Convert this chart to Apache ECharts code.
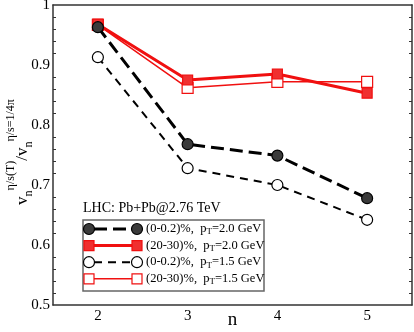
<!DOCTYPE html>
<html>
<head>
<meta charset="utf-8">
<script src="https://cdn.jsdelivr.net/npm/echarts@6/dist/echarts.min.js"></script>
<style>
    html, body { margin: 0; padding: 0; background: #fff; }
    #chart { width: 414px; height: 332px; }
</style>
</head>
<body>
<div id="chart"></div>
<script>
// n 值
const nValues = ['2', '3', '4', '5'];
// (0-0.2)%, pT=2.0 GeV
const central20 = [0.963, 0.768, 0.749, 0.678];
// (20-30)%, pT=2.0 GeV
const mid20 = [0.968, 0.875, 0.885, 0.853];
// (0-0.2)%, pT=1.5 GeV
const central15 = [0.913, 0.728, 0.700, 0.642];
// (20-30)%, pT=1.5 GeV
const mid15 = [0.967, 0.862, 0.872, 0.872];

const font = 'Liberation Serif';
const axisColor = '#333';

const styles = [
    { name: '(0-0.2)%', pt: '2.0', data: central20, color: '#000', width: 3, dash: [13, 6], symbol: 'circle', fill: '#3a3a3a', size: 11 },
    { name: '(20-30)%', pt: '2.0', data: mid20, color: '#f01010', width: 3, dash: 'solid', symbol: 'rect', fill: '#f03030', size: 10 },
    { name: '(0-0.2)%', pt: '1.5', data: central15, color: '#000', width: 2, dash: [8, 6], symbol: 'circle', fill: '#fff', size: 11 },
    { name: '(20-30)%', pt: '1.5', data: mid15, color: '#f01010', width: 1.5, dash: 'solid', symbol: 'rect', fill: '#fff', size: 11 },
];

const sub = { fontFamily: font, fontSize: 9, color: '#000', verticalAlign: 'bottom', padding: [6, 0, 0, 0] };

// 图例 (手动绘制)
function legendGraphics() {
    const items = [];
    const x0 = 83, y0 = 220, w = 181, h = 71;
    items.push({
        type: 'rect', shape: { x: x0, y: y0, width: w, height: h },
        style: { fill: '#fff', stroke: '#666', lineWidth: 1.5 }, z: 10,
    });
    styles.forEach((s, i) => {
        const y = y0 + 9 + i * 16.6;
        const lx1 = 89, lx2 = 137;
        items.push({
            type: 'line', shape: { x1: lx1, y1: y, x2: lx2, y2: y },
            style: { stroke: s.color, lineWidth: s.width, lineDash: s.dash === 'solid' ? null : s.dash, lineDashOffset: -5 }, z: 11,
        });
        [lx1, lx2].forEach(cx => {
            if (s.symbol === 'circle') {
                items.push({
                    type: 'circle', shape: { cx, cy: y, r: 5.5 },
                    style: { fill: s.fill, stroke: '#000', lineWidth: 1.2 }, z: 12,
                });
            } else {
                items.push({
                    type: 'rect', shape: { x: cx - 5, y: y - 5, width: 10, height: 10 },
                    style: { fill: s.fill, stroke: s.color, lineWidth: 1.2 }, z: 12,
                });
            }
        });
        items.push({
            type: 'text', x: 146, y: y, z: 12,
            style: {
                text: `{a|${s.name},  p}{s|T}{a|=${s.pt} GeV}`,
                verticalAlign: 'middle',
                rich: { a: { fontFamily: font, fontSize: 12.5, color: '#000' }, s: sub },
            },
        });
    });
    items.push({
        type: 'text', x: 83, y: 208, z: 12,
        style: { text: 'LHC: Pb+Pb@2.76 TeV', fontFamily: font, fontSize: 14, fill: '#000', verticalAlign: 'middle' },
    });
    // y 轴标题
    items.push({
        type: 'text', x: 18, y: 152, rotation: Math.PI / 2, z: 12,
        style: {
            text: '{m|v}{s|n}{p|η/s(T)}{m|/v}{s|n}{p|η/s=1/4π}',
            align: 'center', verticalAlign: 'middle',
            rich: {
                m: { fontFamily: font, fontSize: 17, color: '#000', verticalAlign: 'bottom' },
                s: { fontFamily: font, fontSize: 12, color: '#000', verticalAlign: 'bottom', padding: [0, 0, -4, 0] },
                p: { fontFamily: font, fontSize: 12, color: '#000', verticalAlign: 'top', padding: [0, 0, 14, 0] },
            },
        },
    });
    return items;
}

const chart = echarts.init(document.getElementById('chart'));

chart.setOption({
    animation: false,
    backgroundColor: '#fff',
    grid: { left: 53, right: 2, top: 5, bottom: 27, outerBoundsMode: 'none' },
    xAxis: [
        {
            type: 'category',
            data: nValues,
            boundaryGap: true,
            name: 'n',
            nameLocation: 'middle',
            nameGap: 6,
            nameMoveOverlap: false,
            nameTextStyle: { fontFamily: font, fontSize: 19, color: '#000' },
            axisLine: { lineStyle: { color: axisColor, width: 1.5 } },
            axisTick: { inside: true, length: 6, alignWithLabel: true, lineStyle: { color: axisColor } },
            axisLabel: { fontFamily: font, fontSize: 15, color: '#000', margin: 4 },
            splitLine: { show: false },
        },
        {
            type: 'category',
            data: nValues,
            position: 'top',
            axisLine: { lineStyle: { color: axisColor, width: 1.5 } },
            axisTick: { inside: true, length: 6, alignWithLabel: true, lineStyle: { color: axisColor } },
            axisLabel: { show: false },
        },
    ],
    yAxis: [
        {
            type: 'value',
            min: 0.5,
            max: 1,
            interval: 0.1,
            axisLine: { show: true, lineStyle: { color: axisColor, width: 1.5 } },
            axisTick: { inside: true, length: 6, lineStyle: { color: axisColor } },
            minorTick: { show: true, splitNumber: 5, length: 3, lineStyle: { color: axisColor } },
            axisLabel: {
                fontFamily: font, fontSize: 15, color: '#000', margin: 3,
                formatter: v => (Math.abs(v - 1) < 1e-9 ? '1' : v.toFixed(1)),
            },
            splitLine: { show: false },
        },
        {
            type: 'value',
            min: 0.5,
            max: 1,
            interval: 0.1,
            position: 'right',
            axisLine: { show: true, lineStyle: { color: axisColor, width: 1.5 } },
            axisTick: { inside: true, length: 6, lineStyle: { color: axisColor } },
            minorTick: { show: true, splitNumber: 5, length: 3, lineStyle: { color: axisColor } },
            axisLabel: { show: false },
            splitLine: { show: false },
        },
    ],
    series: styles.map(s => ({
        type: 'line',
        data: s.data,
        symbol: s.symbol,
        symbolSize: s.size,
        lineStyle: { color: s.color, width: s.width, type: s.dash },
        itemStyle: { color: s.fill, borderColor: s.symbol === 'circle' ? '#000' : s.color, borderWidth: 1.2 },
        z: 3,
    })).reverse(),
    graphic: legendGraphics(),
});
</script>
</body>
</html>
